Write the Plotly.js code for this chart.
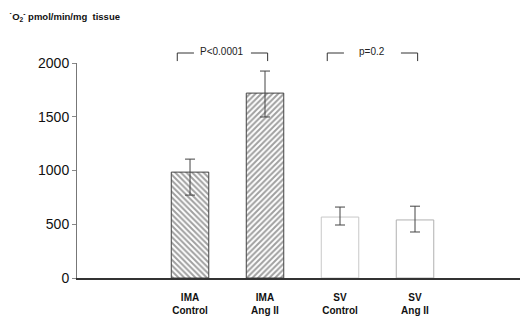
<!DOCTYPE html>
<html><head><meta charset="utf-8">
<script src="https://cdn.plot.ly/plotly-3.0.1.min.js"></script>
<style>body{margin:0;background:#fff}#c{width:522px;height:320px}</style>
</head><body><div id="c"></div>
<script>
const categories = ["IMA<br>Control", "IMA<br>Ang II", "SV<br>Control", "SV<br>Ang II"];
const positions = [1, 2, 3, 4];
const means = [985, 1720, 567, 540];
const errPlus = [121, 205, 93, 128];
const errMinus = [214, 222, 74, 112];
const yTicks = [0, 500, 1000, 1500, 2000];
const pLabels = ["P<0.0001", "p=0.2"];
const pairs = [[1, 2], [3, 4]];

const fills = ['#a0a0a0', '#a0a0a0', '#ffffff', '#ffffff'];
const shapesP = ['\\', '/', '', ''];
const lines = ['#444', '#444', '#c8c8c8', '#b0b0b0'];

const trace = {
  type: 'bar', x: positions, y: means, width: 0.5,
  marker: {
    color: fills,
    pattern: {shape: shapesP, fgcolor: '#2a2a2a', bgcolor: '#b4b4b4', size: 4, solidity: 0.5, fillmode: 'replace'},
    line: {color: lines, width: 1}
  },
  error_y: {type: 'data', symmetric: false, array: errPlus, arrayminus: errMinus, color: '#444', thickness: 1, width: 5},
  hoverinfo: 'skip'
};

const shapes = [];
const annotations = [];
const yb = 1.0465, yd = 1.009;
pairs.forEach((p, i) => {
  const xl = p[0] - 0.17, xr = p[1] + 0.035;
  const mid = (xl + xr) / 2;
  const gap = 0.38;
  const ln = {color: '#333', width: 1};
  shapes.push({type: 'line', xref: 'x', yref: 'paper', x0: xl, x1: xl, y0: yd, y1: yb, line: ln});
  shapes.push({type: 'line', xref: 'x', yref: 'paper', x0: xl, x1: mid - gap, y0: yb, y1: yb, line: ln});
  shapes.push({type: 'line', xref: 'x', yref: 'paper', x0: mid + gap, x1: xr, y0: yb, y1: yb, line: ln});
  shapes.push({type: 'line', xref: 'x', yref: 'paper', x0: xr, x1: xr, y0: yd, y1: yb, line: ln});
  annotations.push({xref: 'x', yref: 'paper', x: mid, y: yb + 0.005, text: pLabels[i], showarrow: false,
    font: {family: 'Liberation Sans, Arial, sans-serif', size: 10, color: '#222'}, yanchor: 'middle'});
});
annotations.push({xref: 'paper', yref: 'paper', x: -0.158, y: 1.215, xanchor: 'left', yanchor: 'middle', showarrow: false,
  text: '<b>˙O<sub>2</sub><sup>-</sup> pmol/min/mg  tissue</b>',
  font: {family: 'Liberation Sans, Arial, sans-serif', size: 9.5, color: '#111'}});

const layout = {
  width: 522, height: 320,
  margin: {l: 77, r: 2, t: 63, b: 42},
  paper_bgcolor: '#fff', plot_bgcolor: '#fff',
  showlegend: false,
  xaxis: {
    range: [-0.507, 5.4], tickvals: positions, ticktext: categories.map(c => '<b>' + c + '</b>'),
    showgrid: false, zeroline: false, showline: true, linecolor: '#333', linewidth: 1.5,
    ticks: 'outside', ticklen: 9, tickcolor: 'rgba(0,0,0,0)',
    tickfont: {family: 'Liberation Sans, Arial, sans-serif', size: 10, color: '#111'}
  },
  yaxis: {
    range: [0, 2000], tickvals: yTicks, showgrid: false, zeroline: false,
    showline: true, linecolor: '#777', linewidth: 1, ticks: 'outside', ticklen: 4, tickcolor: '#888',
    tickfont: {family: 'Liberation Sans, Arial, sans-serif', size: 14, color: '#111'}
  },
  shapes: shapes, annotations: annotations
};
Plotly.newPlot('c', [trace], layout, {staticPlot: true, displayModeBar: false});
</script></body></html>
